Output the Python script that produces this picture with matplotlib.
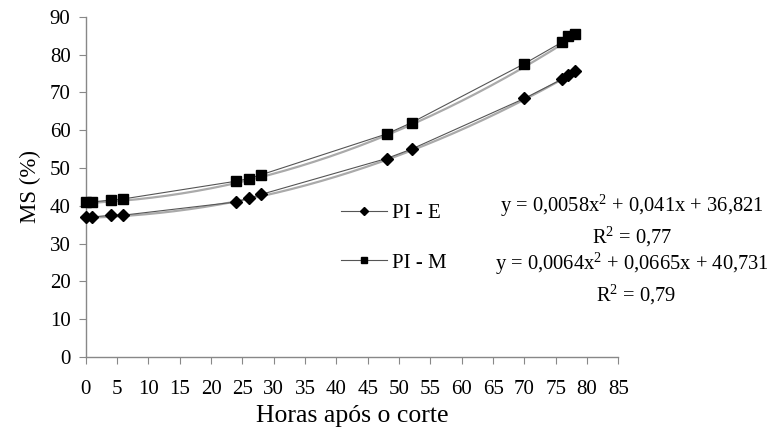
import numpy as np
import matplotlib
matplotlib.use("Agg")
import matplotlib.pyplot as plt
from matplotlib.lines import Line2D

hours = [0, 1, 4, 6, 24, 26, 28, 48, 52, 70, 76, 77, 78]
pi_e = [37.0, 37.0, 37.5, 37.5, 41.0, 42.0, 43.0, 52.5, 55.0, 68.4, 73.5, 74.5, 75.6]
pi_m = [41.0, 41.0, 41.5, 41.8, 46.5, 47.2, 48.2, 59.0, 62.0, 77.6, 83.3, 84.8, 85.4]
coef_e = [0.0058, 0.041, 36.821]
coef_m = [0.0064, 0.0665, 40.731]
x_ticks = list(range(0, 90, 5))
y_ticks = list(range(0, 100, 10))

plt.rcParams['font.family'] = ['Liberation Serif', 'DejaVu Serif']
plt.rcParams['mathtext.fontset'] = 'custom'
plt.rcParams['mathtext.rm'] = 'Liberation Serif'
plt.rcParams['mathtext.it'] = 'Liberation Serif:italic'
plt.rcParams['mathtext.bf'] = 'Liberation Serif:bold'

fig = plt.figure(figsize=(7.73, 4.32), dpi=100)
ax = fig.add_axes([0.111, 0.174, 0.689, 0.787])

xs = np.linspace(min(hours), max(hours), 200)
ax.plot(xs, np.polyval(coef_e, xs), color='#aaaaaa', lw=1.6, zorder=1)
ax.plot(xs, np.polyval(coef_m, xs), color='#aaaaaa', lw=1.6, zorder=1)
ax.plot(hours, pi_e, color='#555555', lw=0.8, marker='D', ms=6.5, mfc='black', mec='black',
        zorder=3, clip_on=False)
ax.plot(hours, pi_m, color='#555555', lw=0.8, marker='s', ms=7.5, mfc='black', mec='black',
        zorder=3, clip_on=False)

ax.set_xlim(0, 85)
ax.set_ylim(0, 90)
ax.set_xticks(x_ticks)
ax.set_yticks(y_ticks)
for s in ['top', 'right']:
    ax.spines[s].set_visible(False)
for s in ['left', 'bottom']:
    ax.spines[s].set_color('#888888')
    ax.spines[s].set_linewidth(1.0)
ax.tick_params(axis='both', direction='out', length=5, color='#888888', labelsize=15)
ax.tick_params(axis='x', pad=12)
ax.tick_params(axis='y', pad=6)

ax.set_xlabel('Horas após o corte', fontsize=18.5, labelpad=4)
ax.set_ylabel('MS (%)', fontsize=16.5, labelpad=6)

handles = [
    Line2D([], [], color='#555555', lw=0.8, marker='D', ms=4.5, mfc='black', mec='black'),
    Line2D([], [], color='#555555', lw=0.8, marker='s', ms=5, mfc='black', mec='black'),
]
leg = fig.legend(handles, ['PI - E', 'PI - M'], loc='center left',
                 bbox_to_anchor=(322 / 773, 1 - 238 / 432), frameon=False, fontsize=15,
                 handlelength=2.2, handletextpad=0.25, labelspacing=1.45)

fs = 14.8
cx = 632 / 773
fig.text(cx, 1 - 206 / 432, 'y = 0,0058x$^{2}$ + 0,041x + 36,821', ha='center', va='center', fontsize=fs)
fig.text(cx, 1 - 237 / 432, 'R$^{2}$ = 0,77', ha='center', va='center', fontsize=fs)
fig.text(cx, 1 - 264 / 432, 'y = 0,0064x$^{2}$ + 0,0665x + 40,731', ha='center', va='center', fontsize=fs)
fig.text(636 / 773, 1 - 295 / 432, 'R$^{2}$ = 0,79', ha='center', va='center', fontsize=fs)

fig.savefig('out.png', dpi=100)
